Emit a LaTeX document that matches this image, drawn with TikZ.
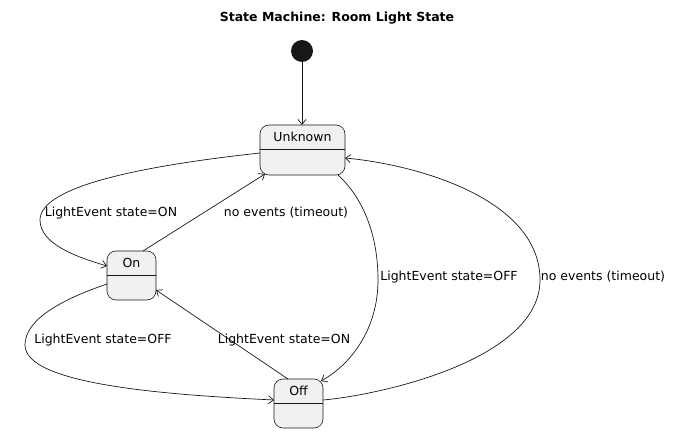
\documentclass[tikz,border=0pt]{standalone}
\usepackage{fontspec}
\setmainfont{DejaVu Sans}
\usetikzlibrary{arrows.meta}
\definecolor{sfill}{HTML}{F1F1F1}
\definecolor{sline}{HTML}{181818}
\begin{document}
\begin{tikzpicture}[x=1pt,y=-1pt,
  st/.style={draw=sline,fill=sfill,rounded corners=9pt,line width=0.6pt},
  lbl/.style={font=\fontsize{12.5}{14}\selectfont,inner sep=1pt},
  tr/.style={-{Straight Barb[length=5pt,width=8pt]},line width=0.7pt,draw=sline}]
\useasboundingbox (0,0) rectangle (675,433);
\node[font=\bfseries\fontsize{12.5}{14}\selectfont] (title) at (337,18) {State Machine: Room Light State};
\node[circle,fill=sline,minimum size=22pt,inner sep=0] (init) at (302,51) {};
% states
\draw[st] (260,125) rectangle (345,175);
\draw[sline,line width=0.6pt] (260,149) -- (345,149);
\node[lbl] (unk) at (302.5,137) {Unknown};
\coordinate (uT) at (302,125);
\draw[st] (107,251) rectangle (156,300);
\draw[sline,line width=0.6pt] (107,275) -- (156,275);
\node[lbl] (on) at (131.5,263) {On};
\draw[st] (274,379) rectangle (323,428);
\draw[sline,line width=0.6pt] (274,403) -- (323,403);
\node[lbl] (off) at (298.5,391) {Off};
\coordinate (uL) at (260,153);
\coordinate (uB1) at (265,174);
\coordinate (uB2) at (338,175);
\coordinate (uR) at (345,158);
\coordinate (onL1) at (107,266);
\coordinate (onL2) at (107,284);
\coordinate (onT) at (143,251);
\coordinate (onB) at (156,290);
\coordinate (offL) at (274,400);
\coordinate (offT) at (288,379);
\coordinate (offT2) at (321,381);
\coordinate (offR) at (323,400);
% edges
\draw[tr] (init) -- (uT);
\draw[tr] (uL) .. controls (150,165) and (40,185) .. (40,220) .. controls (40,245) and (80,258) .. (onL1);
\node[lbl] (l1) at (111,213) {LightEvent state=ON};
\draw[tr] (onT) -- (uB1);
\node[lbl] (l2) at (286,213) {no events (timeout)};
\draw[tr] (uB2) .. controls (360,195) and (378,230) .. (378,280) .. controls (378,330) and (350,365) .. (offT2);
\node[lbl] (l3) at (449,277) {LightEvent state=OFF};
\draw[tr] (offR) .. controls (380,395) and (540,360) .. (540,280) .. controls (540,200) and (420,165) .. (uR);
\node[lbl] (l4) at (603,277) {no events (timeout)};
\draw[tr] (onL2) .. controls (60,300) and (25,320) .. (25,345) .. controls (25,385) and (170,395) .. (offL);
\node[lbl] (l5) at (103,340) {LightEvent state=OFF};
\draw[tr] (offT) -- (onB);
\node[lbl] (l6) at (284,340) {LightEvent state=ON};
\end{tikzpicture}
\end{document}
